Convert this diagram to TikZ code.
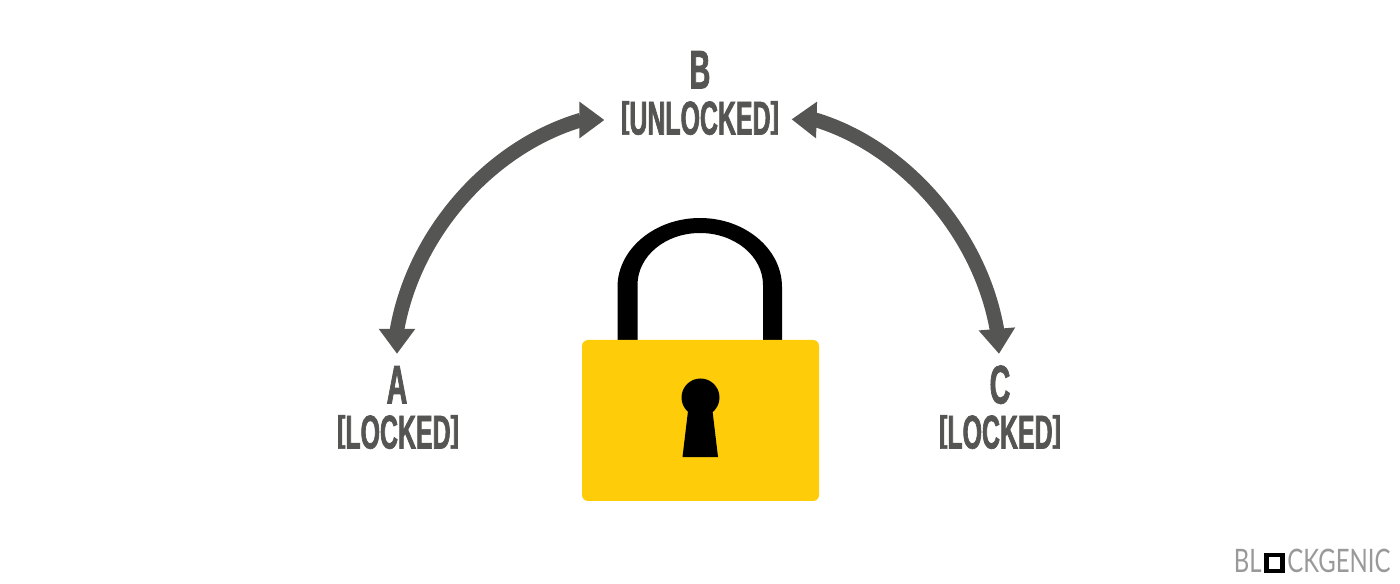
\documentclass[tikz,border=0pt]{standalone}
\usepackage{fontspec}
\setmainfont{Liberation Sans}[FakeStretch=0.525,BoldFeatures={FakeBold=1.4}]
\newfontfamily\logofont{Lato}[FakeStretch=0.74]
\usetikzlibrary{positioning,arrows.meta}
\definecolor{labelgray}{HTML}{555553}
\definecolor{lockyellow}{HTML}{FECC09}
\tikzset{>={Triangle[width=0.35cm,length=0.25cm]}}
\tikzset{
  keyname/.style={inner sep=0pt,text=labelgray,font=\fontsize{15.5}{15}\selectfont\bfseries,text height=0.37cm,text depth=0pt},
  keystate/.style={inner sep=0pt,text=labelgray,font=\fontsize{13.5}{14}\selectfont\bfseries,text height=0.33cm,text depth=0pt},
  swaparrow/.style={<->,labelgray,line width=0.145cm,line join=round},
  logotext/.style={inner sep=0pt,text=gray!80,font=\fontsize{9.2}{10}\logofont,text height=0.19cm,text depth=0pt},
}
% brackets cut down to the height of the capitals
\newcommand{\capbr}[1]{\raisebox{0.155em}{\scalebox{1}[0.76]{#1}}}
\begin{document}
\begin{tikzpicture}
\useasboundingbox (0,0) rectangle (14,5.83);
\node[keyname] (Bname) at (7.00,5.13) {B};
\node[keystate] (Bstate) at (7.00,4.65) {\capbr{[}UNLOCKED\capbr{]}};
\node[keyname] (Aname) at (3.97,1.98) {A};
\node[keystate] (Astate) at (3.98,1.51) {\capbr{[}LOCKED\capbr{]}};
\node[keyname] (Cname) at (10.00,1.98) {C};
\node[keystate] (Cstate) at (10.00,1.51) {\capbr{[}LOCKED\capbr{]}};
\draw[swaparrow,shorten <=0.12cm,shorten >=0.16cm] (Aname.north) -- (3.97,2.53) .. controls (4.14,3.50) and (4.90,4.36) .. (5.81,4.63) -- ([yshift=-0.02cm]Bstate.west);
\draw[swaparrow,shorten <=0.12cm,shorten >=0.12cm] ([yshift=-0.01cm]Bstate.east) -- (8.16,4.63) .. controls (9.04,4.36) and (9.80,3.50) .. (9.97,2.53) -- (Cname.north);
% padlock
\fill[even odd rule] (6.175,2.43) -- (6.175,2.96) .. controls (6.175,3.34) and (6.55,3.65) .. (7.00,3.65) .. controls (7.45,3.65) and (7.82,3.34) .. (7.82,2.96) -- (7.82,2.43)
  -- (7.63,2.43) -- (7.63,2.98) .. controls (7.63,3.27) and (7.345,3.50) .. (7.00,3.50) .. controls (6.655,3.50) and (6.375,3.27) .. (6.375,2.98) -- (6.375,2.43) -- cycle;
\fill[lockyellow,rounded corners=0.06cm] (5.82,0.82) rectangle (8.19,2.43);
\fill (7.005,1.855) circle (0.19);
\fill (6.88,1.72) -- (7.125,1.72) -- (7.18,1.26) -- (6.825,1.26) -- cycle;
% logo
\node[draw=black,line width=0.045cm,minimum size=0.16cm,inner sep=0pt] (logobox) at (12.745,0.20) {};
\node[logotext,left=0.02cm of logobox] (logoleft) {BL};
\node[logotext,right=0.02cm of logobox] (logoright) {CKGENIC};
\end{tikzpicture}
\end{document}
